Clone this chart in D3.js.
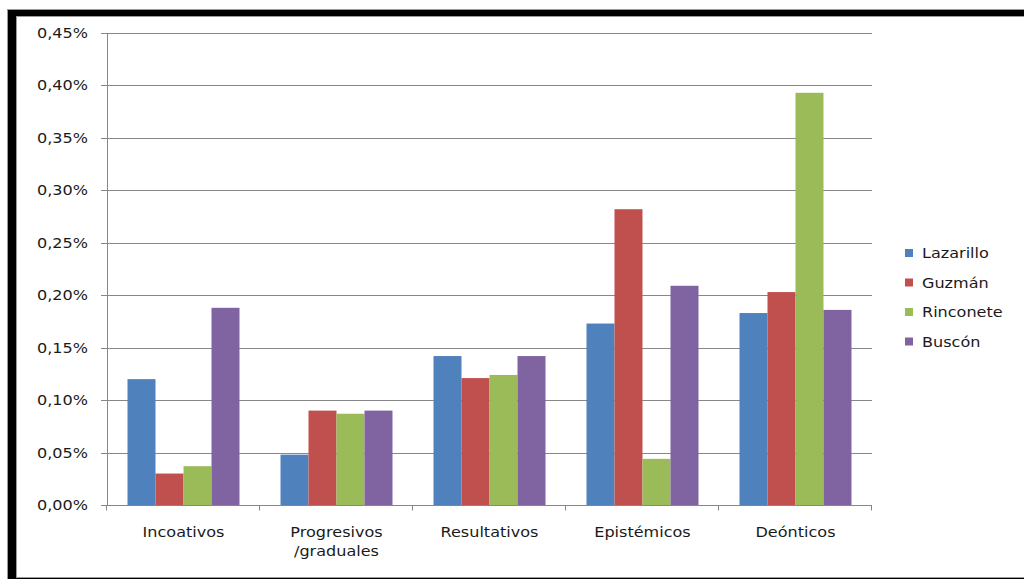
<!doctype html>
<html>
  <head>
    <meta charset="utf-8">
    <script src="https://cdnjs.cloudflare.com/ajax/libs/d3/7.8.5/d3.min.js"></script>
    <style>
      body { margin: 0; background: #fff; }
      text { font-family: "DejaVu Sans", sans-serif; font-size: 13.5px; fill: #1a1a1a; }
    </style>
  </head>
  <body>
    <script>
      // data (percent values)
      var categories = ["Incoativos", "Progresivos\n/graduales", "Resultativos", "Epistémicos", "Deónticos"];
      var seriesNames = ["Lazarillo", "Guzmán", "Rinconete", "Buscón"];
      var lazarillo = [0.120, 0.048, 0.142, 0.173, 0.183];
      var guzman    = [0.030, 0.090, 0.121, 0.282, 0.203];
      var rinconete = [0.037, 0.087, 0.124, 0.044, 0.393];
      var buscon    = [0.188, 0.090, 0.142, 0.209, 0.186];
      var yTicks = [0, 0.05, 0.10, 0.15, 0.20, 0.25, 0.30, 0.35, 0.40, 0.45];
      var colors = ["#4F81BD", "#C0504D", "#9BBB59", "#8064A2"];

      var seriesValues = [lazarillo, guzman, rinconete, buscon];
      var sx = 1.19; // text in the original is stretched horizontally
      var grid = "#878787";

      var svg = d3.select("body").append("svg").attr("width", 1024).attr("height", 579);

      // frame: black band on top and left
      svg.append("rect").attr("x", 8).attr("y", 10).attr("width", 1016).attr("height", 569).attr("fill", "#000");
      svg.append("line").attr("x1", 7).attr("x2", 1024).attr("y1", 9.5).attr("y2", 9.5).attr("stroke", "#999");
      svg.append("line").attr("x1", 7.5).attr("x2", 7.5).attr("y1", 9).attr("y2", 579).attr("stroke", "#999");
      svg.append("rect").attr("x", 16).attr("y", 16).attr("width", 1008).attr("height", 562).attr("fill", "#fff");
      svg.append("line").attr("x1", 16).attr("x2", 1024).attr("y1", 16.5).attr("y2", 16.5).attr("stroke", "#9a9a9a");
      svg.append("line").attr("x1", 16.5).attr("x2", 16.5).attr("y1", 16).attr("y2", 578).attr("stroke", "#9a9a9a");
      svg.append("line").attr("x1", 16).attr("x2", 1024).attr("y1", 577.5).attr("y2", 577.5).attr("stroke", "#9a9a9a");

      var x0 = d3.scaleBand().domain(categories).range([107, 872]).paddingInner(0.268).paddingOuter(0.134);
      var x1 = d3.scaleBand().domain(seriesNames).range([0, x0.bandwidth()]);
      var y = d3.scaleLinear().domain([0, 0.45]).range([505, 33]);
      var crisp = function(v) { return Math.round(v) + 0.5; };

      // gridlines + y tick marks
      svg.append("g").selectAll("line").data(yTicks).enter().append("line")
        .attr("x1", 101).attr("x2", 872)
        .attr("y1", d => crisp(y(d))).attr("y2", d => crisp(y(d)))
        .attr("stroke", grid);

      // bars
      var groups = svg.append("g").selectAll("g").data(categories).enter().append("g")
        .attr("transform", d => "translate(" + x0(d) + ",0)");
      groups.selectAll("rect")
        .data((c, i) => seriesNames.map((s, j) => ({ s: s, v: seriesValues[j][i], j: j })))
        .enter().append("rect")
          .attr("x", d => x1(d.s))
          .attr("width", x1.bandwidth())
          .attr("y", d => y(d.v))
          .attr("height", d => y(0) - y(d.v))
          .attr("fill", d => colors[d.j]);

      // axes lines
      svg.append("line").attr("x1", 107.5).attr("x2", 107.5).attr("y1", y(0.45)).attr("y2", crisp(y(0))).attr("stroke", grid);
      svg.append("line").attr("x1", 101).attr("x2", 872).attr("y1", crisp(y(0))).attr("y2", crisp(y(0))).attr("stroke", grid);
      var bounds = categories.map(c => x0(c) - x0.step() * x0.paddingInner() / 2).concat([872]);
      svg.append("g").selectAll("line").data(bounds).enter().append("line")
        .attr("x1", d => Math.round(d) - 0.5).attr("x2", d => Math.round(d) - 0.5)
        .attr("y1", crisp(y(0))).attr("y2", crisp(y(0)) + 5).attr("stroke", grid);

      // y tick labels
      var fmt = d3.format(".2f");
      svg.append("g").selectAll("text").data(yTicks).enter().append("text")
        .attr("transform", d => "translate(88," + (y(d) + 5) + ") scale(" + sx + ",1)")
        .attr("text-anchor", "end")
        .text(d => fmt(d).replace(".", ",") + "%");

      // category labels
      var cl = svg.append("g").selectAll("text").data(categories).enter().append("text")
        .attr("transform", d => "translate(" + (x0(d) + x0.bandwidth() / 2) + ",537) scale(" + sx + ",1)")
        .attr("text-anchor", "middle");
      cl.selectAll("tspan").data(d => d.split("\n")).enter().append("tspan")
        .attr("x", 0).attr("dy", (d, i) => i ? 19 : 0)
        .text(d => d);

      // legend
      var leg = svg.append("g").selectAll("g").data(seriesNames).enter().append("g")
        .attr("transform", (d, i) => "translate(905," + (249 + i * 29.5) + ")");
      leg.append("rect").attr("width", 8).attr("height", 8).attr("fill", (d, i) => colors[i]);
      leg.append("text")
        .attr("transform", "translate(17,9) scale(" + sx + ",1)")
        .text(d => d);
    </script>
  </body>
</html>
